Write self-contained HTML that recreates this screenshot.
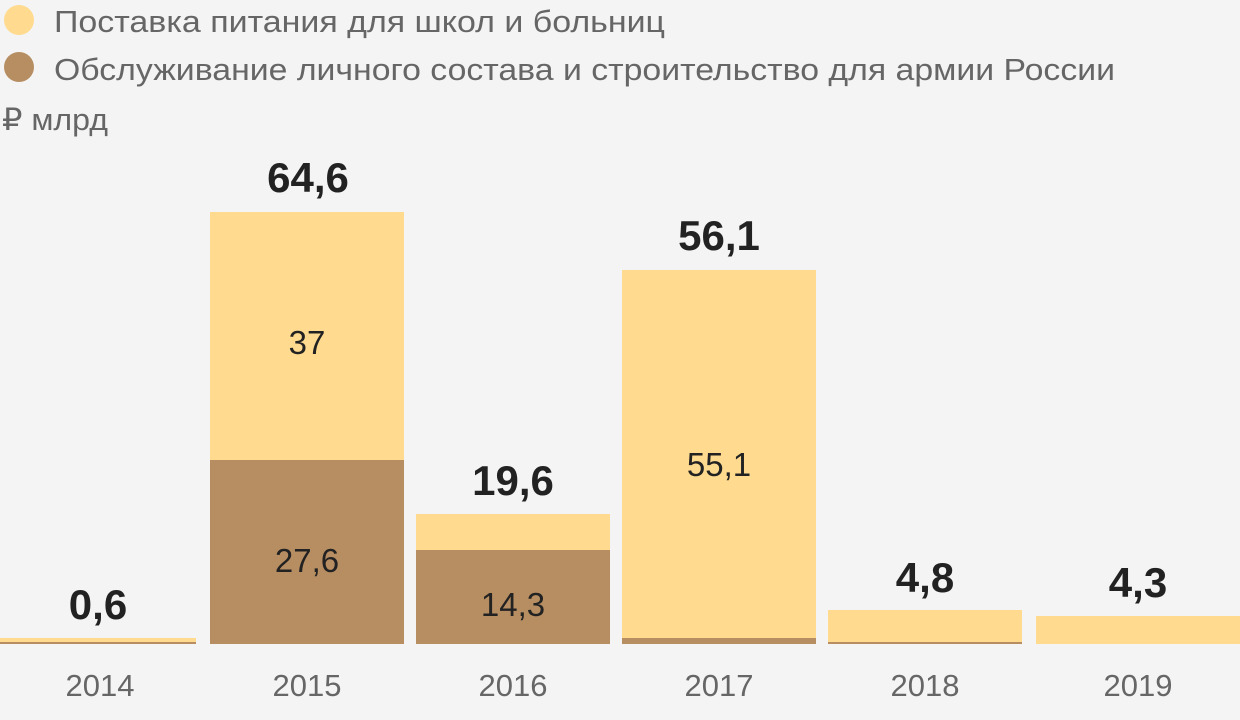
<!DOCTYPE html>
<html><head><meta charset="utf-8"><style>
html,body{margin:0;padding:0;background:#f4f4f4;}
svg{display:block;font-family:"Liberation Sans","DejaVu Sans",sans-serif;}
</style></head><body>
<svg width="1240" height="720" viewBox="0 0 1240 720" xmlns="http://www.w3.org/2000/svg">
<rect width="1240" height="720" fill="#f4f4f4"/>
<circle cx="19" cy="20" r="15" fill="#ffda8f"/>
<circle cx="19" cy="67" r="15" fill="#b68e62"/>
<g fill="#666" font-size="31">
<text x="54" y="32" textLength="611" lengthAdjust="spacingAndGlyphs">Поставка питания для школ и больниц</text>
<text x="54" y="80" textLength="1061" lengthAdjust="spacingAndGlyphs">Обслуживание личного состава и строительство для армии России</text>
<text x="2" y="130" textLength="106" lengthAdjust="spacingAndGlyphs">₽ млрд</text>
</g>
<g fill="#ffda8f">
<rect x="0" y="638" width="196" height="4"/>
<rect x="210" y="212" width="194" height="248"/>
<rect x="416" y="514" width="194" height="36"/>
<rect x="622" y="270" width="194" height="368"/>
<rect x="828" y="610" width="194" height="32"/>
<rect x="1036" y="616" width="204" height="28"/>
</g>
<g fill="#b68e62">
<rect x="0" y="642" width="196" height="2"/>
<rect x="210" y="460" width="194" height="184"/>
<rect x="416" y="550" width="194" height="94"/>
<rect x="622" y="638" width="194" height="6"/>
<rect x="828" y="642" width="194" height="2"/>
</g>
<g fill="#222" font-size="42" font-weight="bold" text-anchor="middle">
<text x="98" y="619">0,6</text>
<text x="308" y="192">64,6</text>
<text x="513" y="495">19,6</text>
<text x="719" y="250">56,1</text>
<text x="925" y="592">4,8</text>
<text x="1138" y="597">4,3</text>
</g>
<g fill="#222" font-size="33" text-anchor="middle">
<text x="307" y="354">37</text>
<text x="307" y="572">27,6</text>
<text x="513" y="616">14,3</text>
<text x="719" y="476">55,1</text>
</g>
<g fill="#666" font-size="31" text-anchor="middle">
<text x="100" y="696">2014</text>
<text x="307" y="696">2015</text>
<text x="513" y="696">2016</text>
<text x="719" y="696">2017</text>
<text x="925" y="696">2018</text>
<text x="1138" y="696">2019</text>
</g>
</svg>
</body></html>
